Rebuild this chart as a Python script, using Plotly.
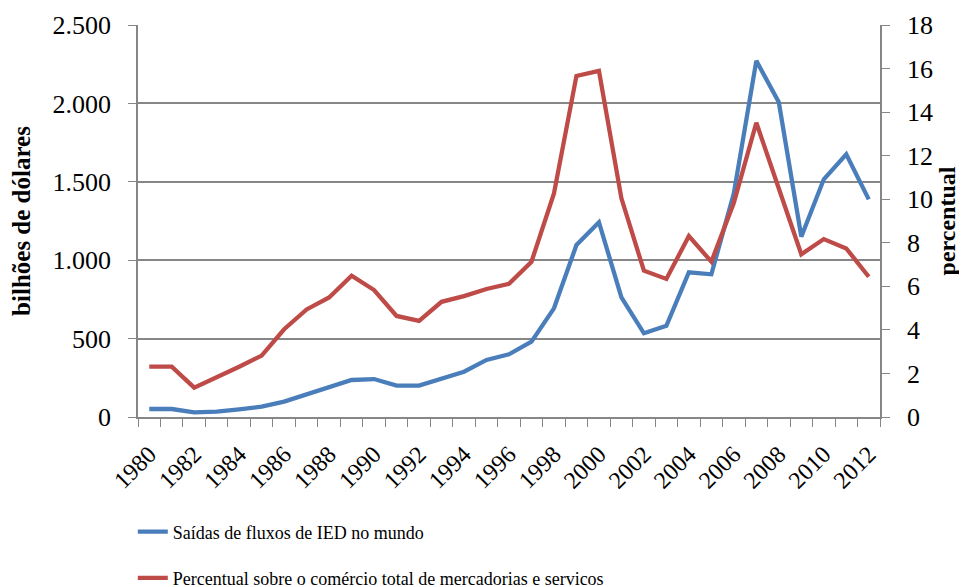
import plotly.graph_objects as go

years = list(range(1980, 2013))

# outflows of FDI, billions of dollars (left axis)
ied_saidas = [51, 51, 30, 34, 49, 66, 98, 145, 187, 236, 242, 200, 200, 247, 289, 364, 400,
              480, 693, 1097, 1242, 763, 534, 582, 923, 910, 1427, 2272, 2007, 1150, 1516, 1675, 1388]

# percent of total trade in goods and services (right axis)
percentual = [2.31, 2.31, 1.35, 1.82, 2.31, 2.82, 4.03, 4.94, 5.49, 6.49, 5.83, 4.64, 4.41, 5.29, 5.55, 5.88, 6.12,
              7.13, 10.27, 15.66, 15.89, 10.04, 6.72, 6.34, 8.31, 7.13, 9.84, 13.51, 10.42, 7.47, 8.17, 7.74, 6.44]

year_labels = [str(y) for y in years[::2]]

serif = "Times New Roman"
grey = "#868686"


def f(size, family=serif):
    return dict(family=family, size=size, color="black")


fig = go.Figure()
fig.add_trace(go.Scatter(
    x=years, y=ied_saidas, mode="lines",
    name="Saídas de fluxos de IED no mundo",
    line=dict(color="#4A7EBB", width=4.3),
    legend="legend",
))
fig.add_trace(go.Scatter(
    x=years, y=percentual, mode="lines", yaxis="y2",
    name="Percentual sobre o comércio total de mercadorias e servicos",
    line=dict(color="#BE4B48", width=4.3),
    legend="legend2",
))

# the page body adds 8px on the left and top, so margins are shifted by that
fig.update_layout(
    width=967, height=587,
    margin=dict(l=130, r=95, t=17, b=178, autoexpand=False),
    paper_bgcolor="white", plot_bgcolor="white",
    font=f(24),
    separators=",.",
    showlegend=True,
    xaxis=dict(
        range=[1979.5, 2012.5], automargin=False,
        tickvals=years[::2], ticktext=year_labels,
        tickangle=-45, ticks="", showgrid=False, ticklabelstandoff=12,
        showline=True, linecolor=grey, linewidth=1.5,
        tickfont=f(24),
        minor=dict(tick0=1979.5, dtick=1, ticks="outside", ticklen=8, tickcolor=grey, showgrid=False),
        zeroline=False,
    ),
    yaxis=dict(
        range=[0, 2500], dtick=500, tickformat=",d", automargin=False,
        showgrid=True, gridcolor=grey, gridwidth=1.5,
        showline=True, linecolor=grey, linewidth=1.5,
        ticks="outside", ticklen=8, tickcolor=grey, ticklabelstandoff=12,
        tickfont=f(26),
        title=dict(text="<b>bilhões de dólares</b>", font=f(25), standoff=16),
        zeroline=False,
    ),
    yaxis2=dict(
        range=[0, 18], dtick=2, overlaying="y", side="right", automargin=False,
        showgrid=False, showline=True, linecolor=grey, linewidth=1.5,
        ticks="outside", ticklen=8, tickcolor=grey, ticklabelstandoff=12,
        tickfont=f(26),
        title=dict(text="<b>percentual</b>", font=f(24), standoff=6),
        zeroline=False,
    ),
    legend=dict(x=-0.007, y=-0.293, xanchor="left", yanchor="middle",
                font=f(18), bgcolor="rgba(0,0,0,0)"),
    legend2=dict(x=-0.007, y=-0.411, xanchor="left", yanchor="middle",
                 font=f(18), bgcolor="rgba(0,0,0,0)"),
)

fig.write_html("out.html")
